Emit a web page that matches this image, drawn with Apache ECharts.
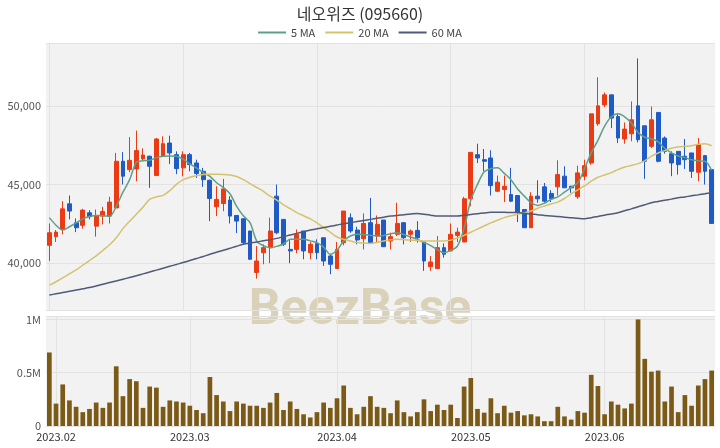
<!DOCTYPE html>
<html><head><meta charset="utf-8">
<script src="https://cdn.jsdelivr.net/npm/echarts@6/dist/echarts.min.js"></script>
<style>html,body{margin:0;padding:0;background:#fff}#c{width:720px;height:448px}</style>
</head><body><div id="c"></div>
<script>
const dates = ['2023-01-31',
'2023-02-01','2023-02-02','2023-02-03','2023-02-06','2023-02-07','2023-02-08','2023-02-09','2023-02-10','2023-02-13','2023-02-14',
'2023-02-15','2023-02-16','2023-02-17','2023-02-20','2023-02-21','2023-02-22','2023-02-23','2023-02-24','2023-02-27','2023-02-28',
'2023-03-02','2023-03-03','2023-03-06','2023-03-07','2023-03-08','2023-03-09','2023-03-10','2023-03-13','2023-03-14','2023-03-15',
'2023-03-16','2023-03-17','2023-03-20','2023-03-21','2023-03-22','2023-03-23','2023-03-24','2023-03-27','2023-03-28','2023-03-29',
'2023-03-30','2023-03-31',
'2023-04-03','2023-04-04','2023-04-05','2023-04-06','2023-04-07','2023-04-10','2023-04-11','2023-04-12','2023-04-13','2023-04-14',
'2023-04-17','2023-04-18','2023-04-19','2023-04-20','2023-04-21','2023-04-24','2023-04-25','2023-04-26','2023-04-27','2023-04-28',
'2023-05-02','2023-05-03','2023-05-04','2023-05-08','2023-05-09','2023-05-10','2023-05-11','2023-05-12','2023-05-15','2023-05-16',
'2023-05-17','2023-05-18','2023-05-19','2023-05-22','2023-05-23','2023-05-24','2023-05-25','2023-05-26','2023-05-30','2023-05-31',
'2023-06-01','2023-06-02','2023-06-05','2023-06-07','2023-06-08','2023-06-09','2023-06-12','2023-06-13','2023-06-14','2023-06-15',
'2023-06-16','2023-06-19','2023-06-20','2023-06-21','2023-06-22','2023-06-23','2023-06-26'];

const opens = [41120,41670,42130,43760,42560,42390,43190,42340,42980,42980,
43500,46470,45940,45980,46620,46790,45560,46790,47630,46890,
46050,46890,46360,45830,45260,43570,43780,44000,43020,42810,
42030,39390,40650,40970,44250,42770,40860,40860,42030,40650,
41240,41600,40440,39640,41290,42870,42090,41540,42560,41710,
42730,41390,41820,42560,41820,42070,41330,39760,39640,40970,
40760,41750,41330,44080,46890,46570,46680,44560,44670,44350,
44290,43400,42240,44250,44840,44420,44840,45520,44880,44210,
45520,46360,48860,50060,50700,49320,47890,48220,50000,48730,
47420,49580,47950,46950,47100,46790,47000,45770,46830,45940];
const closes = [41920,41960,43440,43300,42240,43360,42940,43020,43270,43870,
46470,45520,46530,47150,46870,46150,47890,47590,47000,46000,
46890,46260,45690,45300,44100,44040,44710,42980,42660,41290,
40230,40120,40970,42030,41920,41180,40760,41820,40760,41180,
40650,40120,39910,40860,43300,42030,41460,42510,41240,42450,
41030,41670,42510,41600,42030,41600,40120,40060,40970,40550,
41820,41960,44080,47040,46680,46470,44920,45140,44880,43930,
43230,42240,44250,44080,43930,44080,45620,44780,44780,45730,
46190,49490,50000,50700,49220,47950,48520,49110,47840,46470,
49110,46470,47100,46360,46260,46570,45830,47530,45830,42510];
const lows = [40120,41330,41820,42770,41960,42180,42770,41670,42450,42510,
43450,44990,45770,45200,46530,44780,45560,46740,46300,45650,
45510,45830,45410,44840,42660,42980,43290,42510,41900,41180,
40200,39000,39910,39980,41820,41070,39980,40610,40230,40230,
40230,39810,39280,39640,41120,41920,41180,40860,41240,41330,
41030,40860,41710,41180,41330,41290,39490,39490,39640,40330,
40760,41330,41330,43610,46360,45830,44290,44500,43870,43870,
42600,42240,42240,43830,43830,43870,44290,44780,44460,44080,
45260,46250,48730,49920,48580,47630,47590,47740,47670,45350,
47310,46400,46950,45520,45620,45980,45410,45200,44990,42510];
const highs = [42510,42090,43930,44290,42830,43440,43360,43400,43570,44210,
47000,47050,48010,48420,47290,46830,47950,48060,48100,47100,
47100,47000,46570,46050,45300,44880,45350,44250,43020,42810,
42030,41070,41180,42880,44990,42770,41450,42130,42030,41330,
41500,41600,40500,41330,43300,43150,42300,43150,44140,43020,
42730,41920,43830,42600,42130,42660,41330,40440,41710,41240,
42510,42240,44200,47040,47590,47250,47170,45560,45560,46050,
44290,43400,44500,45260,45090,44630,46530,46150,44880,46190,
46570,49490,51820,50850,50700,49490,48940,50280,53020,48730,
49960,49580,48050,47100,47100,47890,47000,47950,46830,45940];
const volumes = [690000,210000,390000,240000,180000,130000,160000,220000,170000,220000,
560000,280000,440000,420000,170000,370000,360000,180000,240000,230000,
220000,190000,150000,120000,460000,290000,230000,140000,230000,210000,
190000,190000,170000,220000,310000,150000,230000,160000,110000,80000,
130000,220000,170000,260000,380000,170000,110000,180000,280000,180000,
170000,120000,240000,130000,90000,130000,250000,140000,200000,150000,
200000,75000,370000,450000,160000,125000,260000,120000,190000,125000,
140000,100000,110000,90000,45000,45000,180000,90000,60000,140000,
125000,480000,375000,110000,230000,200000,165000,210000,1000000,630000,
510000,520000,230000,370000,130000,290000,190000,380000,440000,520000];
const ma5 = [42880,42400,42090,42300,42550,42800,42950,43020,43000,42960,
43600,44500,45300,46400,46500,46530,46700,46790,46800,46790,
46600,46300,46050,45750,45510,45100,44800,44400,43600,43000,
42560,41390,41100,40970,41050,41200,41500,41500,41500,41400,
41290,41000,40550,40800,41400,41710,41820,41800,41750,41710,
41750,41850,41920,41800,41650,41500,41300,41100,40850,40650,
40800,41070,42200,44000,45000,45800,46000,46050,45700,45300,
44700,44250,43830,43660,43800,44040,44200,44500,44800,45100,
46000,47000,47800,48700,49300,49490,49300,48900,48300,48000,
47900,47700,47300,47000,46800,46700,46560,46500,46470,45900];
const ma20 = [38580,38800,39050,39300,39550,39850,40150,40450,40800,41150,
41600,42180,42650,43100,43550,44040,44200,44300,44600,45000,
45300,45450,45550,45620,45640,45640,45630,45600,45500,45300,
45050,44800,44550,44250,44000,43700,43450,43200,43000,42800,
42550,42250,41950,41650,41500,41400,41300,41260,41240,41300,
41400,41480,41500,41480,41450,41420,41400,41390,41390,41400,
41450,41580,41750,41950,42150,42350,42550,42720,42880,43000,
43100,43200,43300,43480,43620,43750,43870,44100,44400,44650,
44900,45200,45450,45600,45750,45940,46100,46200,46320,46500,
46800,47000,47150,47300,47380,47420,47460,47550,47590,47460];
const ma60 = [37950,38030,38110,38190,38270,38350,38430,38530,38640,38750,
38850,38960,39070,39180,39300,39420,39540,39660,39780,39900,
40020,40150,40280,40410,40550,40680,40800,40930,41060,41180,
41260,41330,41410,41480,41560,41670,41770,41880,41980,42090,
42170,42250,42330,42410,42490,42560,42630,42700,42770,42840,
42910,42980,43020,43070,43110,43150,43100,43040,42980,42980,
42980,42980,43030,43080,43130,43180,43230,43230,43220,43210,
43200,43160,43110,43070,43020,42980,42950,42910,42880,42840,
42810,42880,42960,43040,43110,43190,43320,43440,43570,43700,
43830,43910,43990,44060,44140,44200,44270,44330,44400,44460];

const candles = dates.map((d, i) => [opens[i], closes[i], lows[i], highs[i]]);
const isMonthStart = (i) => i > 0 && dates[i].slice(0, 7) !== dates[i - 1].slice(0, 7);
const FONT = 'Noto Sans CJK KR, Noto Sans, sans-serif';

const chart = echarts.init(document.getElementById('c'), null, {renderer: 'canvas'});
chart.setOption({
  animation: false,
  backgroundColor: '#ffffff',
  textStyle: {fontFamily: FONT},
  title: {
    text: '네오위즈 (095660)', left: 'center', top: 1,
    textStyle: {fontSize: 16, fontWeight: 'normal', color: '#333', fontFamily: FONT}
  },
  legend: {
    top: 22, left: 'center', icon: 'rect', itemWidth: 28, itemHeight: 2, itemGap: 10,
    textStyle: {fontSize: 11, color: '#444', fontFamily: FONT},
    data: ['5 MA', '20 MA', '60 MA']
  },
  graphic: [{
    type: 'text', left: 'center', top: 286, z: 0, silent: true,
    style: {text: 'BeezBase', font: 'bold 50px Roboto, sans-serif', fill: '#d9d2b8'}
  }],
  grid: [
    {left: 46, right: 5, top: 43, height: 267, show: true, backgroundColor: '#f2f2f2', borderWidth: 0},
    {left: 46, right: 5, top: 316, height: 110, show: true, backgroundColor: '#f2f2f2', borderWidth: 0}
  ],
  xAxis: [
    {type: 'category', data: dates, gridIndex: 0, boundaryGap: true,
     axisLine: {show: false}, axisTick: {show: false}, axisLabel: {show: false},
     splitLine: {show: true, alignWithLabel: true, interval: (i) => i % 20 === 0, lineStyle: {color: '#e2e2e2', width: 1}}},
    {type: 'category', data: dates, gridIndex: 1, boundaryGap: true,
     axisLine: {show: false}, axisTick: {show: false},
     axisLabel: {interval: (i) => isMonthStart(i), formatter: (v) => v.slice(0, 4) + '.' + v.slice(5, 7),
                 fontSize: 11, color: '#333', margin: 5, fontFamily: FONT},
     splitLine: {show: true, alignWithLabel: true, interval: (i) => isMonthStart(i), lineStyle: {color: '#e2e2e2', width: 1}}}
  ],
  yAxis: [
    {type: 'value', gridIndex: 0, min: 37000, max: 54000, splitNumber: 3,
     axisLine: {show: false}, axisTick: {show: false},
     axisLabel: {showMinLabel: false, showMaxLabel: false, fontSize: 11, color: '#555', margin: 5,
                 formatter: (v) => v.toLocaleString('en-US')},
     splitLine: {lineStyle: {color: '#e2e2e2', width: 1}}},
    {type: 'value', gridIndex: 1, min: 0, max: 1032000, splitNumber: 2,
     axisLine: {show: false}, axisTick: {show: false},
     axisLabel: {showMaxLabel: false, fontSize: 11, color: '#555', margin: 5,
                 formatter: (v) => v === 0 ? '0' : (v / 1000000) + 'M'},
     splitLine: {lineStyle: {color: '#e2e2e2', width: 1}}}
  ],
  series: [
    {type: 'candlestick', name: 'price', xAxisIndex: 0, yAxisIndex: 0, data: candles, barWidth: '65%',
     itemStyle: {color: '#ea3b14', color0: '#1f5bc6', borderColor: '#ea3b14', borderColor0: '#1f5bc6', borderWidth: 1}},
    {type: 'line', name: '5 MA', xAxisIndex: 0, yAxisIndex: 0, data: ma5, symbol: 'none', smooth: 0.3,
     lineStyle: {color: '#5e9f88', width: 1.5}, itemStyle: {color: '#5e9f88'}},
    {type: 'line', name: '20 MA', xAxisIndex: 0, yAxisIndex: 0, data: ma20, symbol: 'none', smooth: 0.3,
     lineStyle: {color: '#d5c26c', width: 1.5}, itemStyle: {color: '#d5c26c'}},
    {type: 'line', name: '60 MA', xAxisIndex: 0, yAxisIndex: 0, data: ma60, symbol: 'none', smooth: 0.3,
     lineStyle: {color: '#505a78', width: 1.5}, itemStyle: {color: '#505a78'}},
    {type: 'bar', name: 'volume', xAxisIndex: 1, yAxisIndex: 1, data: volumes, barWidth: '70%',
     itemStyle: {color: '#7a5a16'}}
  ]
});
</script></body></html>
